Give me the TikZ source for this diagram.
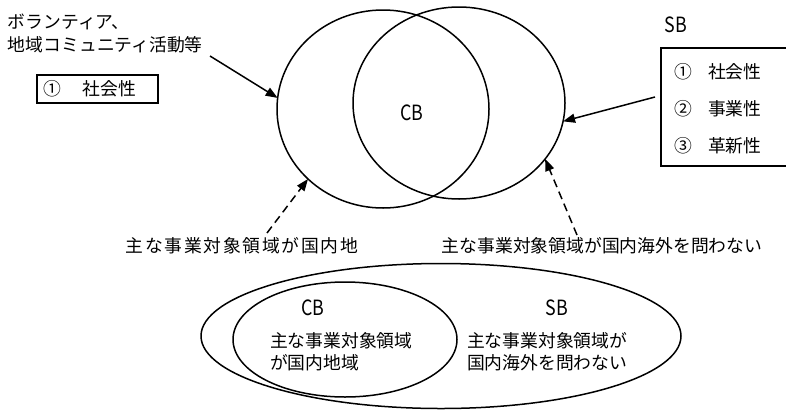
\documentclass[tikz,border=0pt]{standalone}
\usepackage{fontspec}
\usepackage{graphicx}
\setmainfont{Noto Sans CJK JP}
\usetikzlibrary{shapes.geometric,arrows.meta}
\begin{document}
\begin{tikzpicture}[x=1pt,y=1pt,
  every node/.style={inner sep=0pt, outer sep=0pt},
  jp/.style={font=\fontsize{17.8}{22}\selectfont},
  lat/.style={font=\fontsize{21}{21}\selectfont},
  ln/.style={line width=1.5pt},
  arr/.style={ln,-{Triangle[length=12pt,width=9pt]}},
  darr/.style={arr,dash pattern=on 8pt off 5pt},
  venn/.style={ln,draw,ellipse}
]
\useasboundingbox (0,0) rectangle (786,-410);
% Venn circles
\node[venn,minimum width=212,minimum height=198] (L) at (383,-109) {};
\node[venn,minimum width=212,minimum height=192] (R) at (459,-103) {};
\node[lat] (cb) at (412,-113) {\scalebox{0.85}[1]{CB}};
% top-left text and box
\node[font=\fontsize{17.8}{23}\selectfont,align=left,anchor=west] (vol) at (8,-33.5) {ボランティア、\\地域コミュニティ活動等};
\coordinate (a1) at (210,-56);
\draw[arr] (a1) -- (L.174);
\node[draw,ln,jp,minimum width=121,minimum height=28,anchor=west] (box1) at (37,-89) {\makebox[121pt][l]{\hspace{6pt}①\hspace{22pt}社会性}};
% right box
\node[lat] (sbt) at (676,-25) {\scalebox{0.85}[1]{SB}};
\node[draw,ln,minimum width=140,minimum height=118,anchor=north west] (box2) at (661,-48) {};
\node[jp] (r1n) at (683,-72) {①};
\node[jp,anchor=west] (r1t) at (708,-72) {社会性};
\node[jp] (r2n) at (683,-109) {②};
\node[jp,anchor=west] (r2t) at (708,-109) {事業性};
\node[jp] (r3n) at (683,-146) {③};
\node[jp,anchor=west] (r3t) at (708,-146) {革新性};
\coordinate (a2) at (655,-97);
\draw[arr] (a2) -- (R.-10);
% dashed arrows and labels
\coordinate (d1) at (267,-233);
\draw[darr] (d1) -- (L.223);
\coordinate (d2) at (577,-235);
\draw[darr] (d2) -- (R.-33);
\node[jp] (lab1) at (242,-246) {\addfontfeature{LetterSpace=9.5}主な事業対象領域が国内地};
\node[jp] (lab2) at (602,-246) {主な事業対象領域が国内海外を問わない};
% bottom ellipses
\node[venn,minimum width=480,minimum height=145] (O) at (441,-336) {};
\node[venn,minimum width=224,minimum height=115] (I) at (345,-339.5) {};
\node[lat] (cb2) at (313,-308) {\scalebox{0.85}[1]{CB}};
\node[lat] (sb2) at (557,-308) {\scalebox{0.85}[1]{SB}};
\node[jp,align=left,anchor=west] (cbt) at (270,-352) {主な事業対象領域\\が国内地域};
\node[jp,align=left,anchor=west] (sbt2) at (467,-352) {主な事業対象領域が\\国内海外を問わない};
\end{tikzpicture}
\end{document}
